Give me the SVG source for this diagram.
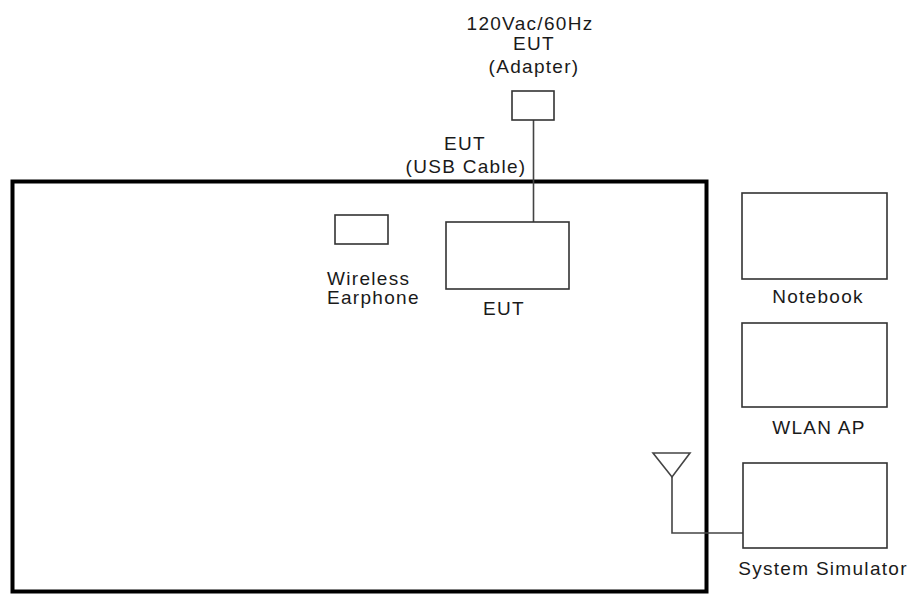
<svg xmlns="http://www.w3.org/2000/svg" width="911" height="595" viewBox="0 0 911 595">
<style>
.t{font-family:"Liberation Sans",Arial,sans-serif;font-size:19px;letter-spacing:1.3px;fill:#1a1a1a}
.m{text-anchor:middle}
.box{fill:#fff;stroke:#333;stroke-width:1.6}
.ln{fill:none;stroke:#444;stroke-width:1.6}
</style>
<rect width="911" height="595" fill="#fff"/>
<g id="room"><rect x="12.5" y="181.5" width="694" height="410" fill="none" stroke="#000" stroke-width="4"/></g>
<g id="connectors">
<line class="ln" x1="533.5" y1="120" x2="533.5" y2="222"/>
<polyline class="ln" points="672,477 672,533 743,533"/>
</g>
<g id="adapter">
<rect class="box" x="512" y="91" width="42" height="29"/>
<text class="t m" x="530" y="30">120Vac/60Hz</text>
<text class="t m" x="534" y="50">EUT</text>
<text class="t m" x="534" y="73">(Adapter)</text>
</g>
<g id="usbcable">
<text class="t m" x="465" y="150">EUT</text>
<text class="t m" x="466" y="173">(USB Cable)</text>
</g>
<g id="earphone">
<rect class="box" x="335" y="215" width="53" height="29"/>
<text class="t" x="327" y="285">Wireless</text>
<text class="t" x="327" y="304">Earphone</text>
</g>
<g id="eut">
<rect class="box" x="446" y="222" width="123" height="67"/>
<text class="t m" x="504" y="315">EUT</text>
</g>
<g id="notebook">
<rect class="box" x="742" y="193" width="145" height="86"/>
<text class="t m" x="818" y="303">Notebook</text>
</g>
<g id="wlanap">
<rect class="box" x="742" y="323" width="145" height="84"/>
<text class="t m" x="819" y="434">WLAN AP</text>
</g>
<g id="simulator">
<rect class="box" x="743" y="463" width="144" height="85"/>
<text class="t m" x="823" y="575">System Simulator</text>
</g>
<g id="antenna">
<polygon class="ln" points="653,453 690,453 672,477"/>
</g>
</svg>
